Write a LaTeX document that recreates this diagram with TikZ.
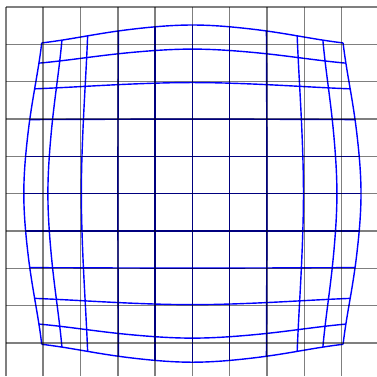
\documentclass[tikz,border=0pt]{standalone}
\begin{document}
\begin{tikzpicture}[x=0.02cm,y=-0.02cm,
  gridline/.style={black,opacity=0.5,line width=0.8pt},
  warpline/.style={blue,line width=0.8pt,line join=round},
  declare function={
    sst(\t)=(\t<=0)?0:((\t>=1)?1:(3*\t*\t-2*\t*\t*\t));
    sxs(\t)=3*\t*\t-2*\t*\t*\t-0.5*\t*\t*\t*(1-\t);
    sqr(\t)=\t*\t;
    dzero(\a)=0.48*sqr(\a/5)*sqr(\a/5)*sqr(\a/5);
    amp(\a)=0.48*sst((3*\a-5)/10);
    FF(\a,\b)=\a-dzero(\a)-amp(\a)*sxs(\b/5);
    MX(\p,\q)=(\p<0?-1:1)*FF(abs(\p),abs(\q));
  }]
\useasboundingbox (0,0) rectangle (377,376);
\def\cx{192.4}\def\cy{193.6}\def\u{37.3}
% warped grid: lines of constant row index
\foreach \j in {-5,...,5}{
  \draw[warpline] plot[smooth,domain=-5:5,samples=41,variable=\s]
    ({\cx+\u*MX(\s,\j)},{\cy+\u*MX(\j,\s)});
}
% warped grid: lines of constant column index
\foreach \i in {-5,...,5}{
  \draw[warpline] plot[smooth,domain=-5:5,samples=41,variable=\s]
    ({\cx+\u*MX(\i,\s)},{\cy+\u*MX(\s,\i)});
}
% regular grid
\foreach \k in {0,...,9}{
  \draw[gridline] ({\cx+\u*(\k-5)},{\cy-5*\u}) -- ({\cx+\u*(\k-5)},376);
  \draw[gridline] ({\cx-5*\u},{\cy+\u*(\k-5)}) -- (377,{\cy+\u*(\k-5)});
}
\end{tikzpicture}
\end{document}
